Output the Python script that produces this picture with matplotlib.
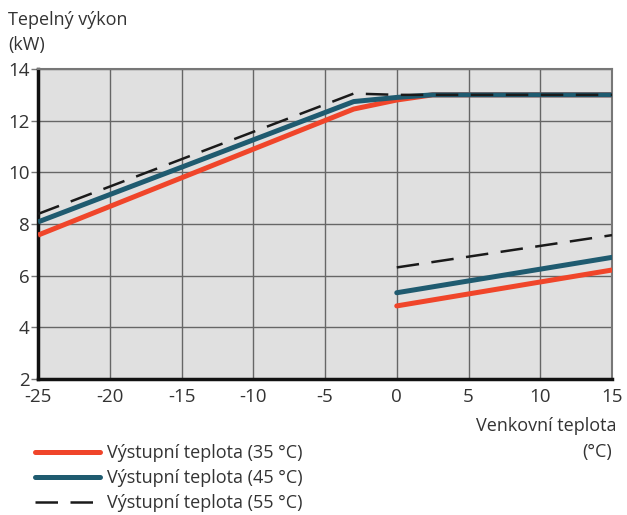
import matplotlib
matplotlib.use("Agg")
import matplotlib.pyplot as plt
from matplotlib.lines import Line2D

plt.rcParams['font.family'] = ['Open Sans', 'DejaVu Sans']
plt.rcParams['axes.unicode_minus'] = False

# Outdoor temperature (°C) and heat output (kW)
x_high = [-25, -3, 0, 2.5, 15]
y35_high = [7.57, 12.45, 12.8, 13.0, 13.0]
y45_high = [8.08, 12.74, 12.9, 13.0, 13.0]
y55_high = [8.39, 13.05, 13.0, 13.0, 13.0]

x_low = [0, 15]
y35_low = [4.83, 6.22]
y45_low = [5.34, 6.71]
y55_low = [6.32, 7.57]

labels = ["Výstupní teplota (35 °C)", "Výstupní teplota (45 °C)", "Výstupní teplota (55 °C)"]
xticks = [-25, -20, -15, -10, -5, 0, 5, 10, 15]
yticks = [2, 4, 6, 8, 10, 12, 14]

red = "#F0452A"
blue = "#1F5B70"
black = "#1A1A1A"
txt = "#333333"

fig = plt.figure(figsize=(6.27, 5.15), dpi=100)
ax = fig.add_axes([0.0606, 0.264, 0.9155, 0.602])
ax.set_facecolor("#E0E0E0")

ax.set_xlim(-25, 15)
ax.set_ylim(2, 14)
ax.set_xticks(xticks)
ax.set_yticks(yticks)
ax.grid(True, color="#666666", linewidth=1.0)
ax.set_axisbelow(True)

lw_thick = 3.6
ax.plot(x_high, y35_high, color=red, lw=lw_thick, solid_capstyle="butt", zorder=3)
ax.plot(x_low, y35_low, color=red, lw=lw_thick, solid_capstyle="round", zorder=3)
ax.plot(x_high, y45_high, color=blue, lw=lw_thick, solid_capstyle="butt", zorder=4)
ax.plot(x_low, y45_low, color=blue, lw=lw_thick, solid_capstyle="round", zorder=4)
ax.plot(x_high, y55_high, color=black, lw=1.8, dashes=(9, 5), zorder=5)
ax.plot(x_low, y55_low, color=black, lw=1.8, dashes=(9, 5), zorder=5)

for side in ("top", "right"):
    ax.spines[side].set_color("#777777")
    ax.spines[side].set_linewidth(1.5)
for side in ("left", "bottom"):
    ax.spines[side].set_color("#111111")
    ax.spines[side].set_linewidth(2.5)

ax.tick_params(axis="y", length=5, width=1, color="#777777", labelsize=13.5, labelcolor=txt, pad=1)
ax.tick_params(axis="x", length=0, labelsize=13.5, labelcolor=txt, pad=6.5)

fs = 13
fig.text(8 / 627, 1 - 20 / 515, "Tepelný výkon", fontsize=fs, color=txt, va="center", ha="left")
fig.text(8 / 627, 1 - 45 / 515, "(kW)", fontsize=fs, color=txt, va="center", ha="left")
fig.text(617 / 627, 1 - 426 / 515, "Venkovní teplota", fontsize=fs, color=txt, va="center", ha="right")
fig.text(612 / 627, 1 - 452 / 515, "(°C)", fontsize=fs, color=txt, va="center", ha="right")

handles = [
    Line2D([], [], color=red, lw=lw_thick, solid_capstyle="round"),
    Line2D([], [], color=blue, lw=lw_thick, solid_capstyle="round"),
    Line2D([], [], color=black, lw=1.8, dashes=(9, 5)),
]
fig.legend(handles, labels, loc="upper left", bbox_to_anchor=(35 / 627, 1 - 444 / 515),
           frameon=False, fontsize=fs, labelcolor=txt, handlelength=3.6, handletextpad=0.4,
           labelspacing=0.4, borderpad=0, borderaxespad=0)

fig.savefig("out.png", dpi=100)
